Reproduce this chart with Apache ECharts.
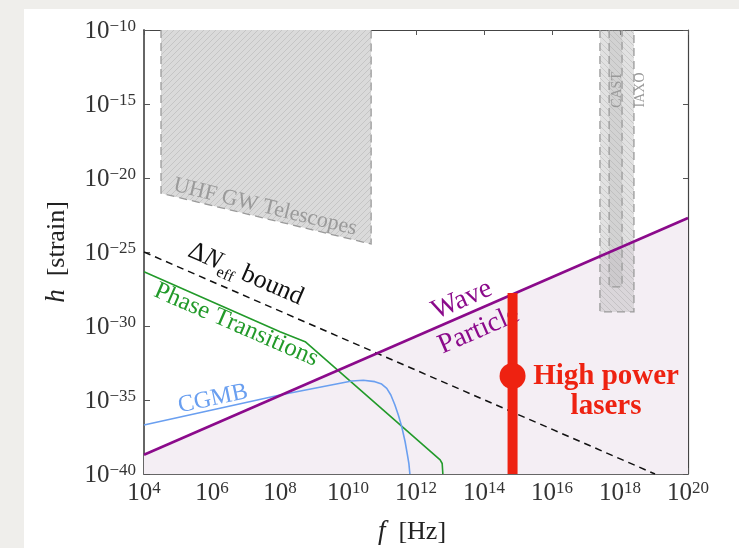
<!DOCTYPE html>
<html><head><meta charset="utf-8">
<script src="https://cdn.jsdelivr.net/npm/echarts@6/dist/echarts.min.js"></script>
<style>html,body{margin:0;padding:0;background:#efeeeb;} #c{width:739px;height:548px;}</style>
</head><body><div id="c"></div>
<script>
// all values are log10 exponents: x = log10(f / Hz), y = log10(h)
const xTicks = [4, 6, 8, 10, 12, 14, 16, 18, 20];
const yTicks = [-40, -35, -30, -25, -20, -15, -10];
const waveParticleF = [4, 20];
const waveParticleH = [-38.7, -22.7];
const neffF = [4, 19.03];
const neffH = [-25, -40];
const phaseF = [4, 8, 8.74, 12.71, 12.77, 12.79];
const phaseH = [-26.33, -30.39, -31.06, -39.05, -39.29, -40];
const cgmbF = [4, 8, 10.11, 10.45, 10.79, 10.99, 11.14, 11.26, 11.38, 11.48, 11.58, 11.68, 11.74, 11.79, 11.82];
const cgmbH = [-36.69, -34.66, -33.72, -33.67, -33.76, -33.92, -34.21, -34.66, -35.34, -36.01, -36.80, -37.82, -38.60, -39.28, -40];
const uhfF = [4.5, 4.5, 10.68, 10.68];
const uhfH = [-10, -21.03, -24.46, -10];
const iaxoF = [17.41, 18.41];
const iaxoH = [-29.05, -10];
const castF = [17.68, 18.06];
const castH = [-27.36, -10];
const laserF = [14.84, 14.84];
const laserH = [-27.77, -40];
const laserPointF = [14.84];
const laserPointH = [-33.38];

const FONT = '"Liberation Serif", "Times New Roman", serif';
const zip = (a, b) => a.map((v, i) => [v, b[i]]);

function hatch(dir, color) {
  const n = 6;
  const c = document.createElement('canvas');
  c.width = n; c.height = n;
  const g = c.getContext('2d');
  g.strokeStyle = color; g.lineWidth = 1;
  g.beginPath();
  if (dir > 0) {
    g.moveTo(0, n); g.lineTo(n, 0);
    g.moveTo(-1, 1); g.lineTo(1, -1);
    g.moveTo(n - 1, n + 1); g.lineTo(n + 1, n - 1);
  } else {
    g.moveTo(0, 0); g.lineTo(n, n);
    g.moveTo(n - 1, -1); g.lineTo(n + 1, 1);
    g.moveTo(-1, n - 1); g.lineTo(1, n + 1);
  }
  g.stroke();
  return c;
}
const hatchUp = { type: 'pattern', image: hatch(1, 'rgba(150,150,150,0.3)'), repeat: 'repeat' };
const hatchDown = { type: 'pattern', image: hatch(-1, 'rgba(150,150,150,0.3)'), repeat: 'repeat' };

function pow10(v) {
  return '{b|10}{s|' + (v < 0 ? '\u2212' + (-v) : v) + '}';
}
const labelRich = {
  b: { fontFamily: FONT, fontSize: 25, color: '#333', lineHeight: 26, verticalAlign: 'middle', padding: [3, 0, 0, 0] },
  s: { fontFamily: FONT, fontSize: 17, color: '#333', lineHeight: 17, verticalAlign: 'middle', padding: [0, 0, 6, 0] }
};

const chart = echarts.init(document.getElementById('c'));
const axisCommon = { type: 'value', splitLine: { show: false } };

chart.setOption({
  backgroundColor: '#efeeeb',
  animation: false,
  grid: { left: 144, top: 30, right: 51, bottom: 74, show: false },
  xAxis: [
    Object.assign({}, axisCommon, {
      position: 'bottom', min: xTicks[0], max: xTicks[xTicks.length - 1], interval: 2,
      axisLine: { lineStyle: { color: '#666', width: 2 } },
      axisTick: { inside: true, length: 6, lineStyle: { color: '#555', width: 1 } },
      axisLabel: { margin: 5, formatter: v => pow10(v), rich: labelRich }
    }),
    Object.assign({}, axisCommon, {
      position: 'top', min: xTicks[0], max: xTicks[xTicks.length - 1], interval: 2,
      axisLine: { lineStyle: { color: '#444', width: 1.2 } },
      axisTick: { inside: true, length: 5, lineStyle: { color: '#555', width: 1 } },
      axisLabel: { show: false }
    })
  ],
  yAxis: [
    Object.assign({}, axisCommon, {
      position: 'left', min: yTicks[0], max: yTicks[yTicks.length - 1], interval: 5,
      axisLine: { lineStyle: { color: '#666', width: 2 } },
      axisTick: { inside: true, length: 6, lineStyle: { color: '#555', width: 1 } },
      axisLabel: { margin: 8, formatter: v => pow10(v), rich: labelRich }
    }),
    Object.assign({}, axisCommon, {
      position: 'right', min: yTicks[0], max: yTicks[yTicks.length - 1], interval: 5,
      axisLine: { lineStyle: { color: '#444', width: 1.2 } },
      axisTick: { inside: true, length: 5, lineStyle: { color: '#555', width: 1 } },
      axisLabel: { show: false }
    })
  ],
  series: [
    { // lavender region under wave/particle line
      type: 'line', z: 1, data: zip(waveParticleF, waveParticleH), symbol: 'none',
      lineStyle: { width: 0 }, areaStyle: { origin: 'start', color: '#f4eef4', opacity: 1 }, silent: true
    },
    { // shaded regions
      type: 'custom', z: 2, data: [0], silent: true,
      renderItem: (params, api) => {
        const uhf = uhfF.map((f, i) => api.coord([f, uhfH[i]]));
        const rectPts = (F, H) => [api.coord([F[0], H[1]]), api.coord([F[0], H[0]]), api.coord([F[1], H[0]]), api.coord([F[1], H[1]])];
        const iaxo = rectPts(iaxoF, iaxoH);
        const cast = rectPts(castF, castH);
        const dash = { stroke: '#9a9a9a', lineWidth: 1.3, lineDash: [8, 5], fill: null };
        return {
          type: 'group', children: [
            { type: 'polygon', shape: { points: uhf }, style: { fill: '#dadada' } },
            { type: 'polygon', shape: { points: uhf }, style: { fill: hatchUp } },
            { type: 'polyline', shape: { points: uhf }, style: dash },
            { type: 'polygon', shape: { points: iaxo }, style: { fill: 'rgba(170,170,170,0.35)' } },
            { type: 'polygon', shape: { points: iaxo }, style: { fill: hatchDown } },
            { type: 'polygon', shape: { points: cast }, style: { fill: 'rgba(160,160,160,0.22)' } },
            { type: 'polyline', shape: { points: iaxo }, style: dash },
            { type: 'polyline', shape: { points: cast }, style: dash }
          ]
        };
      }
    },
    { type: 'line', z: 3, data: zip(neffF, neffH), symbol: 'none', lineStyle: { color: '#111', width: 1.5, type: [7, 5] } },
    { type: 'line', z: 3, data: zip(phaseF, phaseH), symbol: 'none', lineStyle: { color: '#229a2a', width: 1.6 } },
    { type: 'line', z: 3, data: zip(cgmbF, cgmbH), symbol: 'none', lineStyle: { color: '#6a9ff0', width: 1.6, join: 'round' } },
    { type: 'line', z: 4, data: zip(waveParticleF, waveParticleH), symbol: 'none', lineStyle: { color: '#8b0a8b', width: 2.6 } },
    { type: 'line', z: 6, data: zip(laserF, laserH), symbol: 'none', lineStyle: { color: '#ee2211', width: 10, cap: 'butt' } },
    { type: 'scatter', z: 7, data: zip(laserPointF, laserPointH), symbol: 'circle', symbolSize: 26, itemStyle: { color: '#ee2211', opacity: 1 } }
  ]
});

// annotations anchored in data coordinates
const notes = [
  { at: [7.56, -21.96], rot: -13.65, text: 'UHF GW Telescopes', color: '#9a9a9a', size: 22 },
  { at: [6.97, -26.62], rot: -23.5, text: '{n|\u0394}{i|N}{sub|eff}{n| bound}', color: '#111', size: 26, rich: true },
  { at: [6.71, -29.93], rot: -23.5, text: 'Phase Transitions', color: '#229a2a', size: 25 },
  { at: [6.03, -34.93], rot: 12, text: 'CGMB', color: '#6a9ff0', size: 24 },
  { at: [13.35, -28.24], rot: 23.5, text: 'Wave', color: '#8b0a8b', size: 28 },
  { at: [13.85, -30.27], rot: 23.5, text: 'Particle', color: '#8b0a8b', size: 28, z: 1 },
  { at: [17.91, -14.05], rot: 90, text: 'CAST', color: '#999', size: 14 },
  { at: [18.59, -14.05], rot: 90, text: 'IAXO', color: '#999', size: 14 },
  { at: [17.59, -33.38], rot: 0, text: 'High power', color: '#ee2211', size: 29, bold: true },
  { at: [17.59, -35.41], rot: 0, text: 'lasers', color: '#ee2211', size: 29, bold: true }
];

const graphics = [
  { type: 'rect', z: -100, silent: true, shape: { x: 24, y: 9, width: 739, height: 548 }, style: { fill: '#ffffff' } }
];
notes.forEach(n => {
  const p = chart.convertToPixel({ gridIndex: 0 }, n.at);
  const style = {
    text: n.text, fill: n.color, align: 'center', verticalAlign: 'middle',
    fontFamily: FONT, fontSize: n.size, fontWeight: n.bold ? 'bold' : 'normal'
  };
  if (n.rich) {
    style.rich = {
      n: { fontFamily: FONT, fontSize: n.size, fill: n.color, lineHeight: 30, verticalAlign: 'top' },
      i: { fontFamily: FONT, fontSize: n.size, fontStyle: 'italic', fill: n.color, lineHeight: 30, verticalAlign: 'top' },
      sub: { fontFamily: FONT, fontSize: 16, fill: n.color, lineHeight: 16, verticalAlign: 'bottom' }
    };
  }
  graphics.push({ type: 'text', x: p[0], y: p[1], rotation: n.rot * Math.PI / 180, z: n.z != null ? n.z : 50, silent: true, style });
});

// axis titles
const gl = chart.convertToPixel({ gridIndex: 0 }, [xTicks[0], (yTicks[0] + yTicks[yTicks.length - 1]) / 2]);
const gb = chart.convertToPixel({ gridIndex: 0 }, [(xTicks[0] + xTicks[xTicks.length - 1]) / 2, yTicks[0]]);
const titleRich = {
  i: { fontFamily: FONT, fontSize: 27, fontStyle: 'italic', fill: '#222' },
  n: { fontFamily: FONT, fontSize: 26, fill: '#222' }
};
graphics.push({ type: 'text', x: gl[0] - 87, y: gl[1], rotation: Math.PI / 2, z: 50, style: { text: '{i|h}{n|  [strain]}', rich: titleRich, align: 'center', verticalAlign: 'middle' } });
graphics.push({ type: 'text', x: gb[0] - 4, y: gb[1] + 58, z: 50, style: { text: '{i|f}{n|  [Hz]}', rich: titleRich, align: 'center', verticalAlign: 'middle' } });

chart.setOption({ graphic: graphics });
</script>
</body></html>
